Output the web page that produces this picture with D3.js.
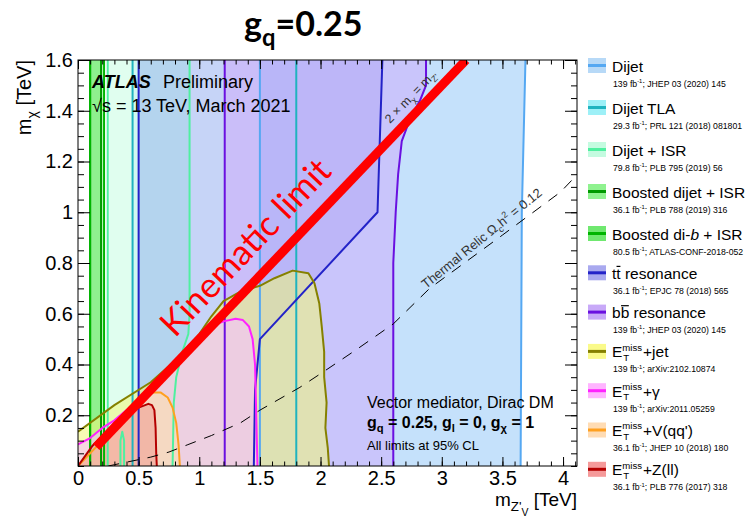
<!DOCTYPE html>
<html><head><meta charset="utf-8">
<script src="https://cdn.jsdelivr.net/npm/d3@7"></script>
<style>body{margin:0;background:#fff}svg{display:block}text{white-space:pre}</style>
</head><body>
<svg id="c" width="753" height="520"></svg>
<script>
// ---------- axis ticks ----------
const xTickValues = [0, 0.5, 1, 1.5, 2, 2.5, 3, 3.5, 4];
const xTickLabels = ["0", "0.5", "1", "1.5", "2", "2.5", "3", "3.5", "4"];
const yTickValues = [0.2, 0.4, 0.6, 0.8, 1.0, 1.2, 1.4, 1.6];
const yTickLabels = ["0.2", "0.4", "0.6", "0.8", "1", "1.2", "1.4", "1.6"];

// ---------- resonance searches: lower / upper mediator-mass edges (m_Z', m_chi) in TeV ----------
const dijetLo = [[1.5, 0], [1.5, 1.6]];
const dijetHi = [[3.65, 0], [3.66, 1.0], [3.69, 1.6]];
const tlaLo = [[0.45, 0], [0.45, 1.6]];
const tlaHi = [[1.8, 0], [1.8, 1.6]];
const isrLo = [[0.245, 0], [0.245, 1.6]];
const isrHi = [[0.78, 0], [0.79, 0.25], [0.81, 0.35], [0.86, 0.45], [0.91, 0.52], [0.92, 0.6], [0.92, 1.6]];
const isrPocket = [[0.35, 0], [0.35, 0.1], [0.365, 0.135], [0.38, 0.1], [0.38, 0]];
const boostedLo = [[0.1, 0], [0.1, 1.6]];
const boostedHi = [[0.19, 0], [0.19, 1.6]];
const boostedBLo = [[0.1, 0], [0.1, 1.6]];
const boostedBHi = [[0.215, 0], [0.215, 1.6]];
const ttbarLo = [[0.5, 0], [0.5, 1.6]];
const ttbarHi = [[1.45, 0], [1.46, 0.3], [1.5, 0.5], [2.47, 1.0], [2.51, 1.6]];
const bbLo = [[1.21, 0], [1.21, 1.6]];
const bbHi = [[2.6, 0], [2.6, 0.8], [2.62, 1.0], [2.64, 1.15], [2.67, 1.28], [2.74, 1.37], [2.82, 1.44], [2.87, 1.5], [2.87, 1.6]];

// ---------- E_T^miss searches: contours from the m_chi axis down to the m_Z' axis ----------
const metJet = [[0, 0.135], [0.3, 0.24], [0.6, 0.33], [0.8, 0.415], [1.0, 0.52], [1.1, 0.59], [1.2, 0.65], [1.35, 0.69], [1.5, 0.71], [1.62, 0.74], [1.77, 0.77], [1.9, 0.76], [1.95, 0.72], [1.99, 0.64], [2.01, 0.55], [2.03, 0.45], [2.03, 0.35], [2.05, 0.25], [2.04, 0.15], [2.06, 0.07], [2.07, 0]];
const metGamma = [[0, 0.085], [0.1, 0.11], [0.2, 0.15], [0.3, 0.18], [0.45, 0.24], [0.6, 0.31], [0.8, 0.41], [0.95, 0.48], [1.1, 0.55], [1.2, 0.57], [1.3, 0.58], [1.36, 0.575], [1.41, 0.55], [1.44, 0.5], [1.46, 0.4], [1.47, 0.2], [1.48, 0]];
const metV = [[0, 0], [0.2, 0.1], [0.4, 0.2], [0.55, 0.27], [0.62, 0.29], [0.68, 0.29], [0.74, 0.27], [0.78, 0.23], [0.81, 0.17], [0.83, 0.08], [0.84, 0]];
const metZ = [[0, 0], [0.12, 0.08], [0.3, 0.17], [0.45, 0.22], [0.5, 0.23], [0.58, 0.245], [0.61, 0.24], [0.63, 0.22], [0.64, 0.15], [0.645, 0.05], [0.65, 0]];

// ---------- reference curves ----------
const thermalRelic = [[0.25, 0], [0.3, 0.005], [0.6, 0.035], [0.75, 0.055], [0.9, 0.083], [1.1, 0.12], [1.34, 0.17], [1.5, 0.22], [1.83, 0.31], [2.02, 0.37], [2.3, 0.46], [2.6, 0.56], [2.9, 0.7], [3.2, 0.805], [3.5, 0.91], [3.98, 1.08], [4.12, 1.15]];
const kinematicLimit = [[0.15, 0.075], [3.2, 1.6]];

// ---------- legend ----------
const legendNames = [
  ["Dijet"],
  ["Dijet TLA"],
  ["Dijet + ISR"],
  ["Boosted dijet + ISR"],
  ["Boosted di-", {t: "b", it: true}, " + ISR"],
  ["t", {t: "t", bar: true}, " resonance"],
  ["b", {t: "b", bar: true}, " resonance"],
  ["E", {t: "miss", b: "T", s: "subsup"}, "+jet"],
  ["E", {t: "miss", b: "T", s: "subsup"}, "+\u03b3"],
  ["E", {t: "miss", b: "T", s: "subsup"}, "+V(qq')"],
  ["E", {t: "miss", b: "T", s: "subsup"}, "+Z(ll)"]
];
const legendLumi = ["139", "29.3", "79.8", "36.1", "80.5", "36.1", "139", "139", "139", "36.1", "36.1"];
const legendRefs = ["JHEP 03 (2020) 145", "PRL 121 (2018) 081801", "PLB 795 (2019) 56", "PLB 788 (2019) 316", "ATLAS-CONF-2018-052", "EPJC 78 (2018) 565", "JHEP 03 (2020) 145", "arXiv:2102.10874", "arXiv:2011.05259", "JHEP 10 (2018) 180", "PLB 776 (2017) 318"];

// ---------- styles ----------
const styles = {
  dijet:    {fill: "rgba(110,180,245,0.40)", line: "#55a8f2", sw: "#b7d9f7"},
  tla:      {fill: "rgba(150,230,250,0.20)", line: "#1fb3bf", sw: "#9df0f7"},
  isr:      {fill: "rgba(130,250,190,0.25)", line: "#4ff0a0", sw: "#c4fbe0"},
  boosted:  {fill: "rgba(60,230,60,0.35)",   line: "#009a00", sw: "#8ff28f"},
  boostedB: {fill: "rgba(60,230,60,0.35)",   line: "#00b400", sw: "#6fe86f"},
  ttbar:    {fill: "rgba(110,120,230,0.29)", line: "#2323c8", sw: "#a9a9ef"},
  bb:       {fill: "rgba(205,170,252,0.52)", line: "#6a10e0", sw: "#c8a9f8"},
  metJet:   {fill: "rgba(242,248,120,0.55)", line: "#858000", sw: "#fafa8a"},
  metGamma: {fill: "rgba(245,195,250,0.65)", line: "#ff22ff", sw: "#ffb4ff"},
  metV:     {fill: "rgba(255,225,165,0.50)", line: "#ffa020", sw: "#ffdcb4"},
  metZ:     {fill: "rgba(240,150,140,0.50)", line: "#b40000", sw: "#f59a9a"}
};
const legendKeys = ["dijet", "tla", "isr", "boosted", "boostedB", "ttbar", "bb", "metJet", "metGamma", "metV", "metZ"];

// ---------- setup ----------
const svg = d3.select("#c");
const SANS = "'Liberation Sans', Arial, Helvetica, sans-serif";
const x = d3.scaleLinear().domain([0, 4.115]).range([78, 577]);
const y = d3.scaleLinear().domain([0, 1.6]).range([466, 60]);
const path = d3.line().x(d => x(d[0])).y(d => y(d[1]));

svg.append("defs").append("clipPath").attr("id", "plotclip")
  .append("rect").attr("x", x(0)).attr("y", y(1.6)).attr("width", x(4.115) - x(0)).attr("height", y(0) - y(1.6));

// rich text: sequential segments with sub/superscripts and overbars
function rich(parent, x0, y0, segs, size, attrs) {
  const g = parent.append("g");
  Object.entries(attrs || {}).forEach(([k, v]) => g.attr(k, v));
  let cx = x0;
  segs.forEach(s0 => {
    const s = typeof s0 === "string" ? {t: s0} : s0;
    if (s.s === "subsup") {
      const a = g.append("text").attr("x", cx).attr("y", y0 - size * 0.42).attr("font-size", size * 0.62).text(s.t);
      const b = g.append("text").attr("x", cx + 1).attr("y", y0 + size * 0.24).attr("font-size", size * 0.62).text(s.b);
      cx += Math.max(a.node().getComputedTextLength(), b.node().getComputedTextLength() + 1) + 1;
      return;
    }
    let yy = y0, f = size;
    if (s.s === "sub") { yy = y0 + size * 0.28; f = size * 0.7; }
    if (s.s === "subsub") { yy = y0 + size * 0.5; f = size * 0.55; }
    if (s.s === "sup") { yy = y0 - size * 0.42; f = size * 0.68; }
    const e = g.append("text").attr("x", cx).attr("y", yy).attr("font-size", f).text(s.t);
    if (s.it) e.attr("font-style", "italic");
    const w = e.node().getComputedTextLength();
    if (s.bar) {
      g.append("line").attr("x1", cx + w * 0.05).attr("x2", cx + w * 0.95)
        .attr("y1", yy - f * 0.8).attr("y2", yy - f * 0.8)
        .attr("stroke", attrs && attrs.fill ? attrs.fill : "#000").attr("stroke-width", 1.2);
    }
    cx += w;
  });
  g.attr("data-w", cx - x0);
  return g;
}

// ---------- exclusion regions ----------
const plot = svg.append("g").attr("clip-path", "url(#plotclip)");
const bandPoly = (lo, hi) => lo.concat(hi.slice().reverse());
const metPoly = c => [[0, 0]].concat(c);

const fills = [
  ["dijet", bandPoly(dijetLo, dijetHi)],
  ["isr", bandPoly(isrLo, isrHi)],
  ["tla", bandPoly(tlaLo, tlaHi)],
  ["boosted", bandPoly(boostedLo, boostedHi)],
  ["boostedB", bandPoly(boostedBLo, boostedBHi)],
  ["ttbar", bandPoly(ttbarLo, ttbarHi)],
  ["bb", bandPoly(bbLo, bbHi)],
  ["metJet", metPoly(metJet)],
  ["metGamma", metPoly(metGamma)],
  ["metV", metPoly(metV)],
  ["metZ", metPoly(metZ)]
];
plot.selectAll("path.fill").data(fills).join("path").attr("class", "fill")
  .attr("d", d => path(d[1]) + "Z").attr("fill", d => styles[d[0]].fill).attr("stroke", "none");

const contours = [
  ["dijet", dijetLo], ["dijet", dijetHi],
  ["tla", tlaLo], ["tla", tlaHi],
  ["isr", isrLo], ["isr", isrHi], ["isr", isrPocket],
  ["boosted", boostedLo], ["boosted", boostedHi],
  ["boostedB", boostedBLo], ["boostedB", boostedBHi],
  ["ttbar", ttbarLo], ["ttbar", ttbarHi],
  ["bb", bbLo], ["bb", bbHi],
  ["metJet", metJet], ["metGamma", metGamma], ["metV", metV], ["metZ", metZ]
];
plot.selectAll("path.cont").data(contours).join("path").attr("class", "cont")
  .attr("d", d => path(d[1])).attr("fill", "none")
  .attr("stroke", d => styles[d[0]].line).attr("stroke-width", 2).attr("stroke-linejoin", "round");

// thermal relic and kinematic limit
plot.append("path").attr("d", path(thermalRelic)).attr("fill", "none")
  .attr("stroke", "#000").attr("stroke-width", 1).attr("stroke-dasharray", "11,9");
plot.append("path").attr("d", path(kinematicLimit)).attr("fill", "none")
  .attr("stroke", "#ff0000").attr("stroke-width", 9);

// ---------- frame & ticks ----------
const axes = svg.append("g").attr("font-family", SANS);
const minorX = d3.range(0, 4.11, 0.1);
const minorY = d3.range(0, 1.601, 0.05);
function styleAxis(g) { g.select(".domain").remove(); g.selectAll("line").attr("stroke", "#000"); g.selectAll("text").attr("font-size", 20).attr("fill", "#000"); }

axes.append("g").attr("transform", `translate(0,${y(0)})`)
  .call(d3.axisBottom(x).tickValues(minorX).tickFormat("").tickSizeInner(-4.5).tickSizeOuter(0)).call(styleAxis);
axes.append("g").attr("transform", `translate(0,${y(0)})`)
  .call(d3.axisBottom(x).tickValues(xTickValues).tickFormat((d, i) => xTickLabels[i]).tickSizeInner(-9).tickSizeOuter(0).tickPadding(5)).call(styleAxis);
axes.append("g").attr("transform", `translate(0,${y(1.6)})`)
  .call(d3.axisTop(x).tickValues(minorX).tickFormat("").tickSizeInner(-4.5).tickSizeOuter(0)).call(styleAxis);
axes.append("g").attr("transform", `translate(0,${y(1.6)})`)
  .call(d3.axisTop(x).tickValues(xTickValues).tickFormat("").tickSizeInner(-9).tickSizeOuter(0)).call(styleAxis);
axes.append("g").attr("transform", `translate(${x(0)},0)`)
  .call(d3.axisLeft(y).tickValues(minorY).tickFormat("").tickSizeInner(-6).tickSizeOuter(0)).call(styleAxis);
axes.append("g").attr("transform", `translate(${x(0)},0)`)
  .call(d3.axisLeft(y).tickValues(yTickValues).tickFormat((d, i) => yTickLabels[i]).tickSizeInner(-12).tickSizeOuter(0).tickPadding(5)).call(styleAxis);
axes.append("g").attr("transform", `translate(${x(4.115)},0)`)
  .call(d3.axisRight(y).tickValues(minorY).tickFormat("").tickSizeInner(-6).tickSizeOuter(0)).call(styleAxis);
axes.append("g").attr("transform", `translate(${x(4.115)},0)`)
  .call(d3.axisRight(y).tickValues(yTickValues).tickFormat("").tickSizeInner(-12).tickSizeOuter(0)).call(styleAxis);
svg.append("rect").attr("x", x(0)).attr("y", y(1.6)).attr("width", x(4.115) - x(0)).attr("height", y(0) - y(1.6))
  .attr("fill", "none").attr("stroke", "#000").attr("stroke-width", 1);

// axis titles
const xt = rich(svg, 0, 0, ["m", {t: "Z'", s: "sub"}, {t: "V", s: "subsub"}, " [TeV]"], 19, {"font-family": SANS, fill: "#000"});
xt.attr("transform", `translate(${577 - (+xt.attr("data-w"))},506)`);
const yt = rich(svg, 0, 0, ["m", {t: "\u03c7", s: "sub"}, " [TeV]"], 20, {"font-family": SANS, fill: "#000"});
yt.attr("transform", `translate(31,${60 + (+yt.attr("data-w"))}) rotate(-90)`);

// title
const tt = rich(svg, 0, 0, ["g", {t: "q", s: "sub"}, "=0.25"], 34, {"font-family": "Lato, 'Open Sans', sans-serif", "font-weight": "bold", fill: "#000"});
tt.attr("transform", `translate(${244},36)`);

// ---------- in-plot text ----------
const ann = svg.append("g").attr("font-family", SANS).attr("fill", "#000");
ann.append("text").attr("x", 92).attr("y", 88).attr("font-size", 18).attr("font-weight", "bold").attr("font-style", "italic").text("ATLAS");
ann.append("text").attr("x", 163).attr("y", 88).attr("font-size", 18).text("Preliminary");
ann.append("text").attr("x", 92).attr("y", 112).attr("font-size", 18).text("\u221as = 13 TeV, March 2021");
ann.append("text").attr("x", 367).attr("y", 408).attr("font-size", 16).text("Vector mediator, Dirac DM");
rich(ann, 367, 428, ["g", {t: "q", s: "sub"}, " = 0.25, g", {t: "l", s: "sub"}, " = 0, g", {t: "\u03c7", s: "sub"}, " = 1"], 16, {"font-weight": "bold"});
ann.append("text").attr("x", 367).attr("y", 450).attr("font-size", 13).text("All limits at 95% CL");

const tr = rich(svg, 0, 0, ["Thermal Relic \u03a9", {t: "c", s: "sub"}, "h", {t: "2", s: "sup"}, " = 0.12"], 13, {"font-family": SANS, fill: "#333"});
tr.attr("transform", "translate(426,289) rotate(-39)");
const km = rich(svg, 0, 0, ["2 \u00d7 m", {t: "\u03c7", s: "sub"}, " = m", {t: "Z'", s: "sub"}], 12.5, {"font-family": SANS, fill: "#333"});
km.attr("transform", "translate(390,124) rotate(-46)");

svg.append("text").attr("transform", "translate(244,246) rotate(-46.3)")
  .attr("text-anchor", "middle").attr("dominant-baseline", "central")
  .attr("font-family", "Lato, 'Open Sans', sans-serif").attr("font-size", 35).attr("fill", "#ff0000")
  .text("Kinematic limit");

// ---------- legend ----------
const leg = svg.append("g").attr("font-family", SANS);
legendKeys.forEach((k, i) => {
  const cy = i <= 4 ? 65.5 + i * 42 : 233.5 + (i - 4) * 39.3;
  leg.append("rect").attr("x", 588).attr("y", cy - 7.5).attr("width", 18).attr("height", 15).attr("fill", styles[k].sw);
  leg.append("line").attr("x1", 588).attr("x2", 606).attr("y1", cy).attr("y2", cy).attr("stroke", styles[k].line).attr("stroke-width", 3);
  rich(leg, 612, cy + 6, legendNames[i], 15.5, {fill: "#000"});
  rich(leg, 613, cy + 21, [legendLumi[i] + " fb", {t: "-1", s: "sup"}, "; " + legendRefs[i]], 8.7, {fill: "#000"});
});
</script>
</body></html>
